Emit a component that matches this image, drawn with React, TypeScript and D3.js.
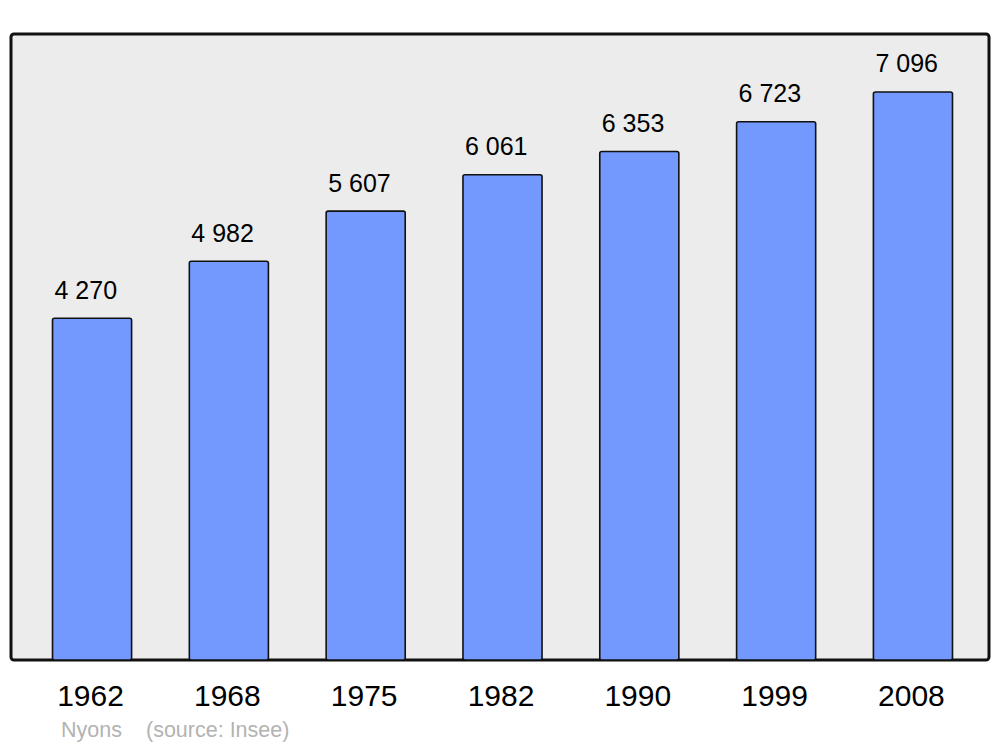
import React from "react";
import * as d3 from "d3";

const years = ["1962", "1968", "1975", "1982", "1990", "1999", "2008"];
const population = [4270, 4982, 5607, 6061, 6353, 6723, 7096];
const valueLabels = ["4 270", "4 982", "5 607", "6 061", "6 353", "6 723", "7 096"];
const commune = "Nyons";
const source = "(source: Insee)";

export default function App() {
  const W = 1000, H = 747;
  const frame = { x0: 11, y0: 34, x1: 989, y1: 660 };
  const x = d3.scaleBand<string>().domain(years).range([14, 991]).paddingInner(0.422).paddingOuter(0.2815);
  const y = d3.scaleLinear().domain([0, 7820]).range([frame.y1, frame.y0]);
  const font = "'Liberation Sans', Arial, sans-serif";
  return (
    <svg width={W} height={H} style={{ position: "absolute", left: 0, top: 0 }}>
      <rect x={0} y={0} width={W} height={H} fill="#fff" />
      <rect x={frame.x0} y={frame.y0} width={frame.x1 - frame.x0} height={frame.y1 - frame.y0}
        fill="#ececec" stroke="#111" strokeWidth={3} rx={3} />
      {years.map((yr, i) => {
        const bx = x(yr)!;
        const top = y(population[i]);
        return (
          <g key={yr}>
            <rect x={bx} y={top} width={x.bandwidth()} height={frame.y1 - top}
              fill="#7399ff" stroke="#111" strokeWidth={1.6} rx={2} />
            <text x={bx + 2} y={top - 19.5} textAnchor="start"
              fontFamily={font} fontSize={25} fill="#000">{valueLabels[i]}</text>
            <text x={bx + x.bandwidth() / 2 - 1.5} y={706} textAnchor="middle"
              fontFamily={font} fontSize={30} fill="#000">{yr}</text>
          </g>
        );
      })}
      <text x={61} y={737} fontFamily={font} fontSize={21.5} fill="#b3b3b3">{commune}</text>
      <text x={146} y={737} fontFamily={font} fontSize={21.5} fill="#b3b3b3">{source}</text>
    </svg>
  );
}
